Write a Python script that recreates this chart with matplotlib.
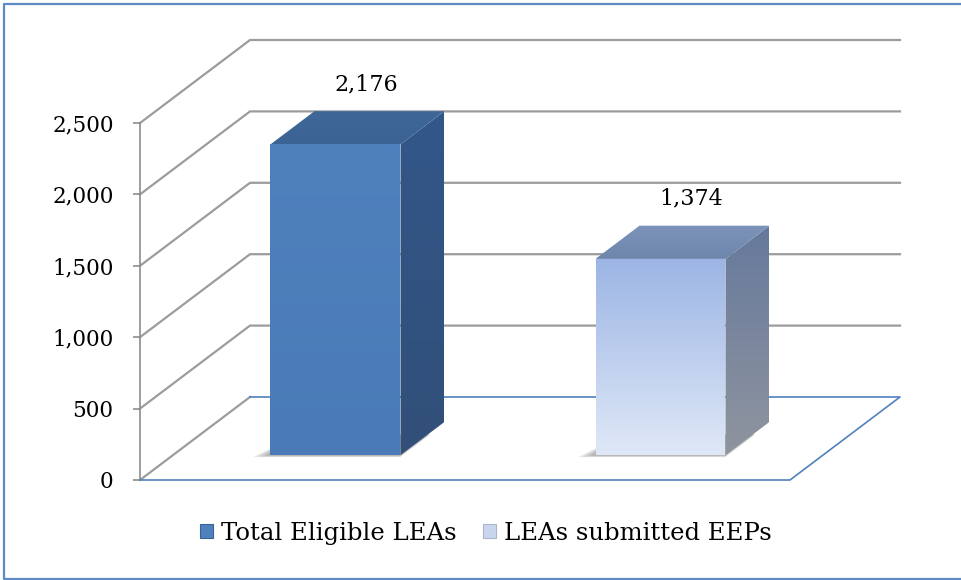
import numpy as np
import matplotlib
matplotlib.use("Agg")
import matplotlib.pyplot as plt
from matplotlib.patches import Polygon, Patch
from matplotlib.lines import Line2D
from matplotlib.ticker import FuncFormatter

# ---- data ----
categories = ["Total Eligible LEAs", "LEAs submitted EEPs"]
values = [2176, 1374]
value_labels = ["2,176", "1,374"]
yticks = [0, 500, 1000, 1500, 2000, 2500]

# ---- layout (pixels) ----
W, H = 962, 580
px_front_left = 140.0      # pixel x of front plane, category edge -0.5
px_per_cat = 325.0
px_y0 = 480.0              # pixel y (from top) of value 0 on the front plane
px_per_val = 71.4 / 500.0
depth_px = (110.0, 83.0)
bar_z0, bar_z1 = 0.30, 0.70
bar_half = 0.2

DX = depth_px[0] / px_per_cat
DY = depth_px[1] / px_per_val

plt.rcParams['font.family'] = ['DejaVu Serif']
fig = plt.figure(figsize=(W / 100, H / 100), dpi=100)
ax = fig.add_axes([0, 0, 1, 1])
ax.set_facecolor('none')
xlim = (-0.5 - px_front_left / px_per_cat, -0.5 + (W - px_front_left) / px_per_cat)
ylim = (-(H - px_y0) / px_per_val, px_y0 / px_per_val)


def P(x, z, v):
    return (x + z * DX, v + z * DY)


vmax = yticks[-1]
xl, xr = -0.5, len(categories) - 0.5
grid_c = '#9c9c9c'
# back wall & left wall gridlines
for t in yticks[1:]:
    a = P(xl, 0, t); b = P(xl, 1, t); c = P(xr, 1, t)
    ax.plot([a[0], b[0], c[0]], [a[1], b[1], c[1]], color=grid_c, lw=1.6,
            solid_joinstyle='miter', zorder=1)
# floor left diagonal (gray)
a = P(xl, 0, 0); b = P(xl, 1, 0)
ax.plot([a[0], b[0]], [a[1], b[1]], color=grid_c, lw=1.6, zorder=1)
# floor outline (blue)
fl = [P(xl, 1, 0), P(xr, 1, 0), P(xr, 0, 0), P(xl, 0, 0)]
ax.plot([p[0] for p in fl], [p[1] for p in fl], color='#4F81BD', lw=1.2, zorder=1.5)


def gradient_poly(pts, c_top, c_bot, zorder):
    poly = Polygon(pts, closed=True, facecolor='none', edgecolor='none', zorder=zorder)
    ax.add_patch(poly)
    xs = [p[0] for p in pts]; ys = [p[1] for p in pts]
    c1 = np.array(matplotlib.colors.to_rgb(c_top)); c2 = np.array(matplotlib.colors.to_rgb(c_bot))
    t = np.linspace(0, 1, 256)[:, None]
    img = (c1 * (1 - t) + c2 * t)[:, None, :]
    im = ax.imshow(img, extent=[min(xs), max(xs), min(ys), max(ys)], origin='upper',
                   aspect='auto', zorder=zorder, interpolation='bilinear')
    im.set_clip_path(poly)


styles = [
    dict(front=('#4F81BD', '#4A7BB8'), top=('#3B6393', '#3F6899'), side=('#33578A', '#314F78')),
    dict(front=('#9CB5E4', '#DFE8F7'), top=('#6E86AC', '#7C94BA'), side=('#66799C', '#8F959F')),
]

for i, (v, st) in enumerate(zip(values, styles)):
    x0, x1 = i - bar_half, i + bar_half
    # soft shadow on the floor (towards the front-left)
    for e in [0.05, 0.038, 0.026, 0.014]:
        sp = [P(x0 - e * 0.9, bar_z0 - e * 0.5, 0), P(x1 + e * 0.15, bar_z0 - e * 0.5, 0),
              P(x1 + e * 0.15, bar_z1 - 0.15, 0), P(x0, bar_z1 - 0.15, 0)]
        ax.add_patch(Polygon(sp, closed=True, facecolor='#4a4a4a', edgecolor='none',
                             alpha=0.12, zorder=2))
    front = [P(x0, bar_z0, 0), P(x1, bar_z0, 0), P(x1, bar_z0, v), P(x0, bar_z0, v)]
    top = [P(x0, bar_z0, v), P(x1, bar_z0, v), P(x1, bar_z1, v), P(x0, bar_z1, v)]
    side = [P(x1, bar_z0, 0), P(x1, bar_z1, 0), P(x1, bar_z1, v), P(x1, bar_z0, v)]
    gradient_poly(side, st['side'][0], st['side'][1], 3)
    gradient_poly(top, st['top'][1], st['top'][0], 3)
    gradient_poly(front, st['front'][0], st['front'][1], 4)
    lx, ly = P(i, 0.58, v)
    ax.annotate(value_labels[i], (lx, ly), xytext=(0, 26.5), textcoords='offset points',
                ha='center', va='center', fontsize=16, color='black', zorder=6)

ax.set_xlim(*xlim)
ax.set_ylim(*ylim)

# y axis on the front plane
for s in ['top', 'right', 'bottom']:
    ax.spines[s].set_visible(False)
ax.spines['left'].set_position(('data', xl))
ax.spines['left'].set_bounds(0, vmax)
ax.spines['left'].set_color('#8c8c8c')
ax.spines['left'].set_linewidth(1.2)
ax.spines['left'].set_zorder(1)
ax.set_yticks(yticks)
ax.yaxis.set_major_formatter(FuncFormatter(lambda x, p: f"{int(x):,}"))
ax.tick_params(axis='y', direction='out', length=5, width=1.2, color='#8c8c8c',
               labelsize=15.5, pad=14)
ax.set_xticks([])

# legend
handles = [Patch(facecolor='#4F81BD', edgecolor='#3A6395', lw=0.8),
           Patch(facecolor='#C9D6EE', edgecolor='#A9B6CC', lw=0.8)]
fig.legend(handles, categories, loc='center', bbox_to_anchor=(0.505, 0.081), ncol=2,
           frameon=False, fontsize=17.5, handlelength=0.55, handleheight=0.55,
           handletextpad=0.3, columnspacing=1.1)

# outer border (left, top, bottom visible; right edge cropped)
bx0, by0, by1 = 4.0, 3.5, 578.5
border = Line2D([W / W, bx0 / W, bx0 / W, W / W],
                [1 - by0 / H, 1 - by0 / H, 1 - by1 / H, 1 - by1 / H],
                transform=fig.transFigure, color='#5F8AC7', lw=1.6)
fig.lines.append(border)

fig.savefig('out.png', dpi=100)
